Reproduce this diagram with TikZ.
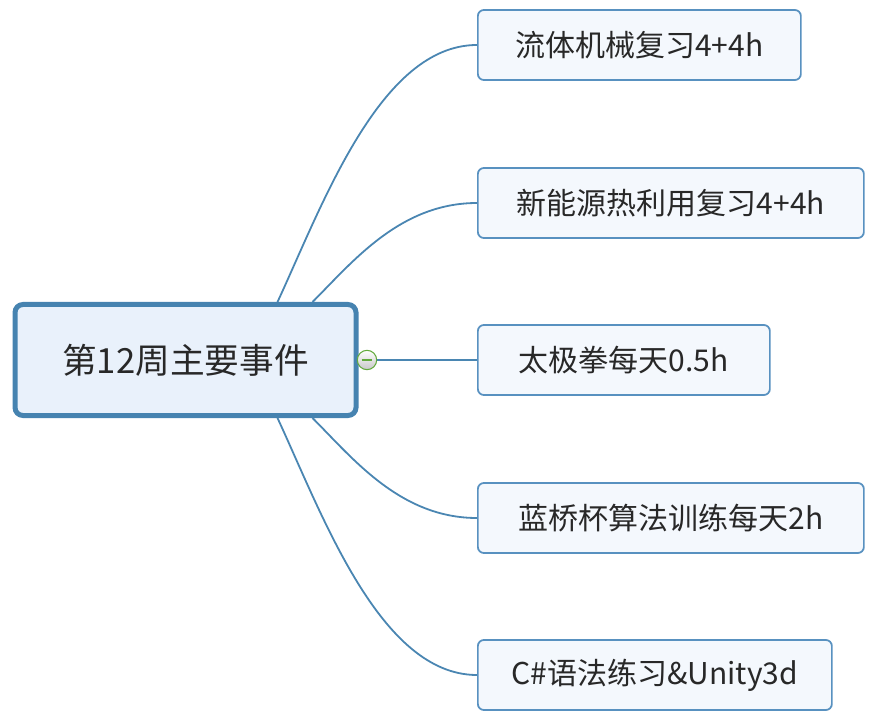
\documentclass[tikz,border=0pt]{standalone}
\usepackage{fontspec}
\setmainfont{Noto Sans CJK SC}
\usetikzlibrary{backgrounds}

\definecolor{rootline}{RGB}{70,131,176}
\definecolor{rootfill}{RGB}{233,241,251}
\definecolor{leafline}{RGB}{88,145,192}
\definecolor{leaffill}{RGB}{244,248,253}
\definecolor{linkline}{RGB}{74,134,178}
\definecolor{foldgreen}{RGB}{98,170,60}
\definecolor{txt}{RGB}{40,40,40}

\tikzset{every picture/.style={line width=0.75pt}}
\tikzset{
  root/.style={draw=rootline, fill=rootfill, line width=3.75pt, rounded corners=6pt,
    anchor=west, minimum width=255.75pt, minimum height=83.25pt, text=txt,
    font=\fontsize{26}{30}\selectfont},
  leaf/.style={draw=leafline, fill=leaffill, line width=1.3pt, rounded corners=4.5pt,
    anchor=west, minimum height=52.5pt, text=txt, font=\fontsize{22.5}{26}\selectfont},
  link/.style={draw=linkline, line width=1.35pt},
  fold/.style={circle, draw=foldgreen, line width=0.8pt, minimum size=14.5pt, inner sep=0pt,
    top color=white, bottom color=black!22,
    path picture={\draw[foldgreen, line width=0.9pt]
      ([xshift=-4pt]path picture bounding box.center) -- ([xshift=4pt]path picture bounding box.center);}}
}

\begin{document}
\begin{tikzpicture}[x=0.75pt,y=0.75pt,yscale=-1,xscale=1]
	\useasboundingbox (0,0) rectangle (875,720);

	% central topic
	\node[root] (main) at (12.5,360) {第12周主要事件};

	% branches
	\node[leaf, minimum width=242.25pt] (b1) at (477,45) {流体机械复习4+4h};
	\node[leaf, minimum width=289.5pt] (b2) at (477,203) {新能源热利用复习4+4h};
	\node[leaf, minimum width=219pt] (b3) at (477,360) {太极拳每天0.5h};
	\node[leaf, minimum width=289.5pt] (b4) at (477,518) {蓝桥杯算法训练每天2h};
	\node[leaf, minimum width=265.5pt] (b5) at (477,675) {C\#语法练习\&Unity3d};

	% collapse button
	\node[fold] (fold) at (367,360) {};

	% connectors
	\begin{scope}[on background layer]
	\draw[link] ([xshift=69pt]main.north) .. controls +(45,-97) and +(-97,0) .. (b1.west);
	\draw[link] ([xshift=95.25pt]main.north) .. controls +(40,-40) and +(-77,0) .. (b2.west);
	\draw[link] (fold) -- (b3);
	\draw[link] ([xshift=95.25pt]main.south) .. controls +(40,40) and +(-77,0) .. (b4.west);
	\draw[link] ([xshift=69pt]main.south) .. controls +(45,97) and +(-97,0) .. (b5.west);
	\end{scope}

\end{tikzpicture}
\end{document}
